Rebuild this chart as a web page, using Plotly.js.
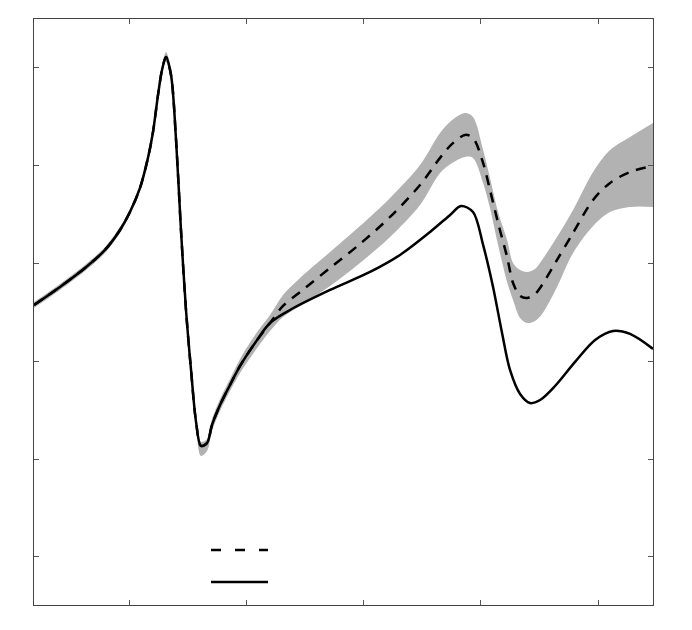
<!DOCTYPE html>
<html>
<head>
<meta charset="utf-8">
<script src="https://cdn.plot.ly/plotly-3.0.1.min.js"></script>
<style>html,body{margin:0;padding:0;background:#fff;}#chart{width:692px;height:630px;}</style>
</head>
<body>
<div id="chart"></div>
<script>
// Solid curve
const solidX = [0.180,0.402,0.616,0.787,0.915,1.000,1.086,1.154,1.197,1.240,1.274,1.308,1.351,1.394,1.436,1.479,1.522,1.565,1.607,1.659,1.701,1.770,1.855,1.941,2.069,2.197,2.368,2.710,3.052,3.308,3.565,3.736,3.829,3.932,4.018,4.103,4.180,4.248,4.334,4.419,4.505,4.633,4.804,4.975,5.129,5.274,5.470];
const solidY = [3.576,3.761,3.955,4.139,4.343,4.527,4.773,5.080,5.345,5.724,5.979,6.112,5.928,5.264,4.343,3.525,2.912,2.380,2.135,2.165,2.349,2.554,2.758,2.953,3.188,3.392,3.525,3.730,3.914,4.088,4.323,4.497,4.589,4.527,4.190,3.761,3.290,2.912,2.666,2.574,2.605,2.748,2.994,3.219,3.311,3.280,3.127];

// Mean (dashed) curve and its band
const meanX = [0.180,0.402,0.616,0.787,0.915,1.000,1.086,1.154,1.197,1.240,1.274,1.308,1.351,1.394,1.436,1.479,1.522,1.565,1.607,1.659,1.701,1.770,1.855,1.941,2.069,2.197,
  2.308,2.454,2.710,2.966,3.223,3.479,3.650,3.753,3.864,3.932,4.018,4.077,4.146,4.223,4.274,4.334,4.394,4.462,4.522,4.650,4.787,4.958,5.103,5.274,5.470];
const meanY = [3.576,3.761,3.955,4.139,4.343,4.527,4.773,5.080,5.345,5.724,5.979,6.112,5.928,5.264,4.343,3.525,2.912,2.380,2.135,2.165,2.349,2.554,2.758,2.953,3.188,3.392,
  3.566,3.709,3.955,4.200,4.476,4.803,5.080,5.223,5.315,5.284,5.028,4.752,4.415,4.067,3.801,3.669,3.648,3.689,3.781,4.037,4.313,4.650,4.824,4.936,4.998];
const bandUpper = [3.607,3.792,3.986,4.170,4.374,4.558,4.804,5.121,5.386,5.765,6.020,6.163,5.979,5.305,4.384,3.566,2.963,2.441,2.176,2.206,2.410,2.615,2.819,3.025,3.270,3.474,
  3.679,3.853,4.118,4.384,4.671,5.008,5.335,5.468,5.540,5.499,5.161,4.875,4.527,4.241,4.006,3.934,3.914,3.945,4.037,4.272,4.548,4.936,5.161,5.294,5.437];
const bandLower = [3.545,3.730,3.924,4.108,4.312,4.496,4.742,5.039,5.304,5.683,5.938,6.061,5.877,5.223,4.302,3.484,2.861,2.319,2.033,2.083,2.288,2.493,2.697,2.881,3.106,3.310,
  3.454,3.566,3.771,4.006,4.272,4.599,4.926,5.028,5.090,5.080,4.824,4.568,4.190,3.812,3.628,3.444,3.392,3.413,3.484,3.761,4.108,4.384,4.527,4.579,4.579];

const xTicks = [1,2,3,4,5];
const yTicks = [1,2,3,4,5,6];

const lineShape = {shape:'spline', smoothing:0.9};
const traces = [
  {x: meanX, y: bandLower, mode:'lines', line:{width:0, ...lineShape}, hoverinfo:'skip', showlegend:false},
  {x: meanX, y: bandUpper, mode:'lines', line:{width:0, ...lineShape}, fill:'tonexty', fillcolor:'rgb(178,178,178)', hoverinfo:'skip', showlegend:false},
  {x: meanX, y: meanY, mode:'lines', line:{color:'#000', width:2.5, dash:'10px,8px', ...lineShape}, showlegend:false},
  {x: solidX, y: solidY, mode:'lines', line:{color:'#000', width:2.5, ...lineShape}, showlegend:false}
];

const axisCommon = {showline:true, linecolor:'#444', linewidth:1, mirror:'ticks', ticks:'inside', ticklen:5, tickcolor:'#555', tickwidth:1, showticklabels:false, showgrid:false, zeroline:false};

const layout = {
  width:692, height:630,
  margin:{l:34, r:39, t:19, b:25},
  paper_bgcolor:'#fff', plot_bgcolor:'#fff',
  showlegend:false,
  xaxis:{...axisCommon, range:[0.18,5.47], tickvals:xTicks},
  yaxis:{...axisCommon, range:[0.509,6.50], tickvals:yTicks},
  shapes:[
    {type:'line', xref:'paper', yref:'paper', x0:0.286, x1:0.378, y0:0.0939, y1:0.0939, line:{color:'#000', width:2.5, dash:'10px,14px'}},
    {type:'line', xref:'paper', yref:'paper', x0:0.286, x1:0.378, y0:0.0392, y1:0.0392, line:{color:'#000', width:2.5}}
  ]
};

Plotly.newPlot('chart', traces, layout, {displayModeBar:false, staticPlot:true});
</script>
</body>
</html>
